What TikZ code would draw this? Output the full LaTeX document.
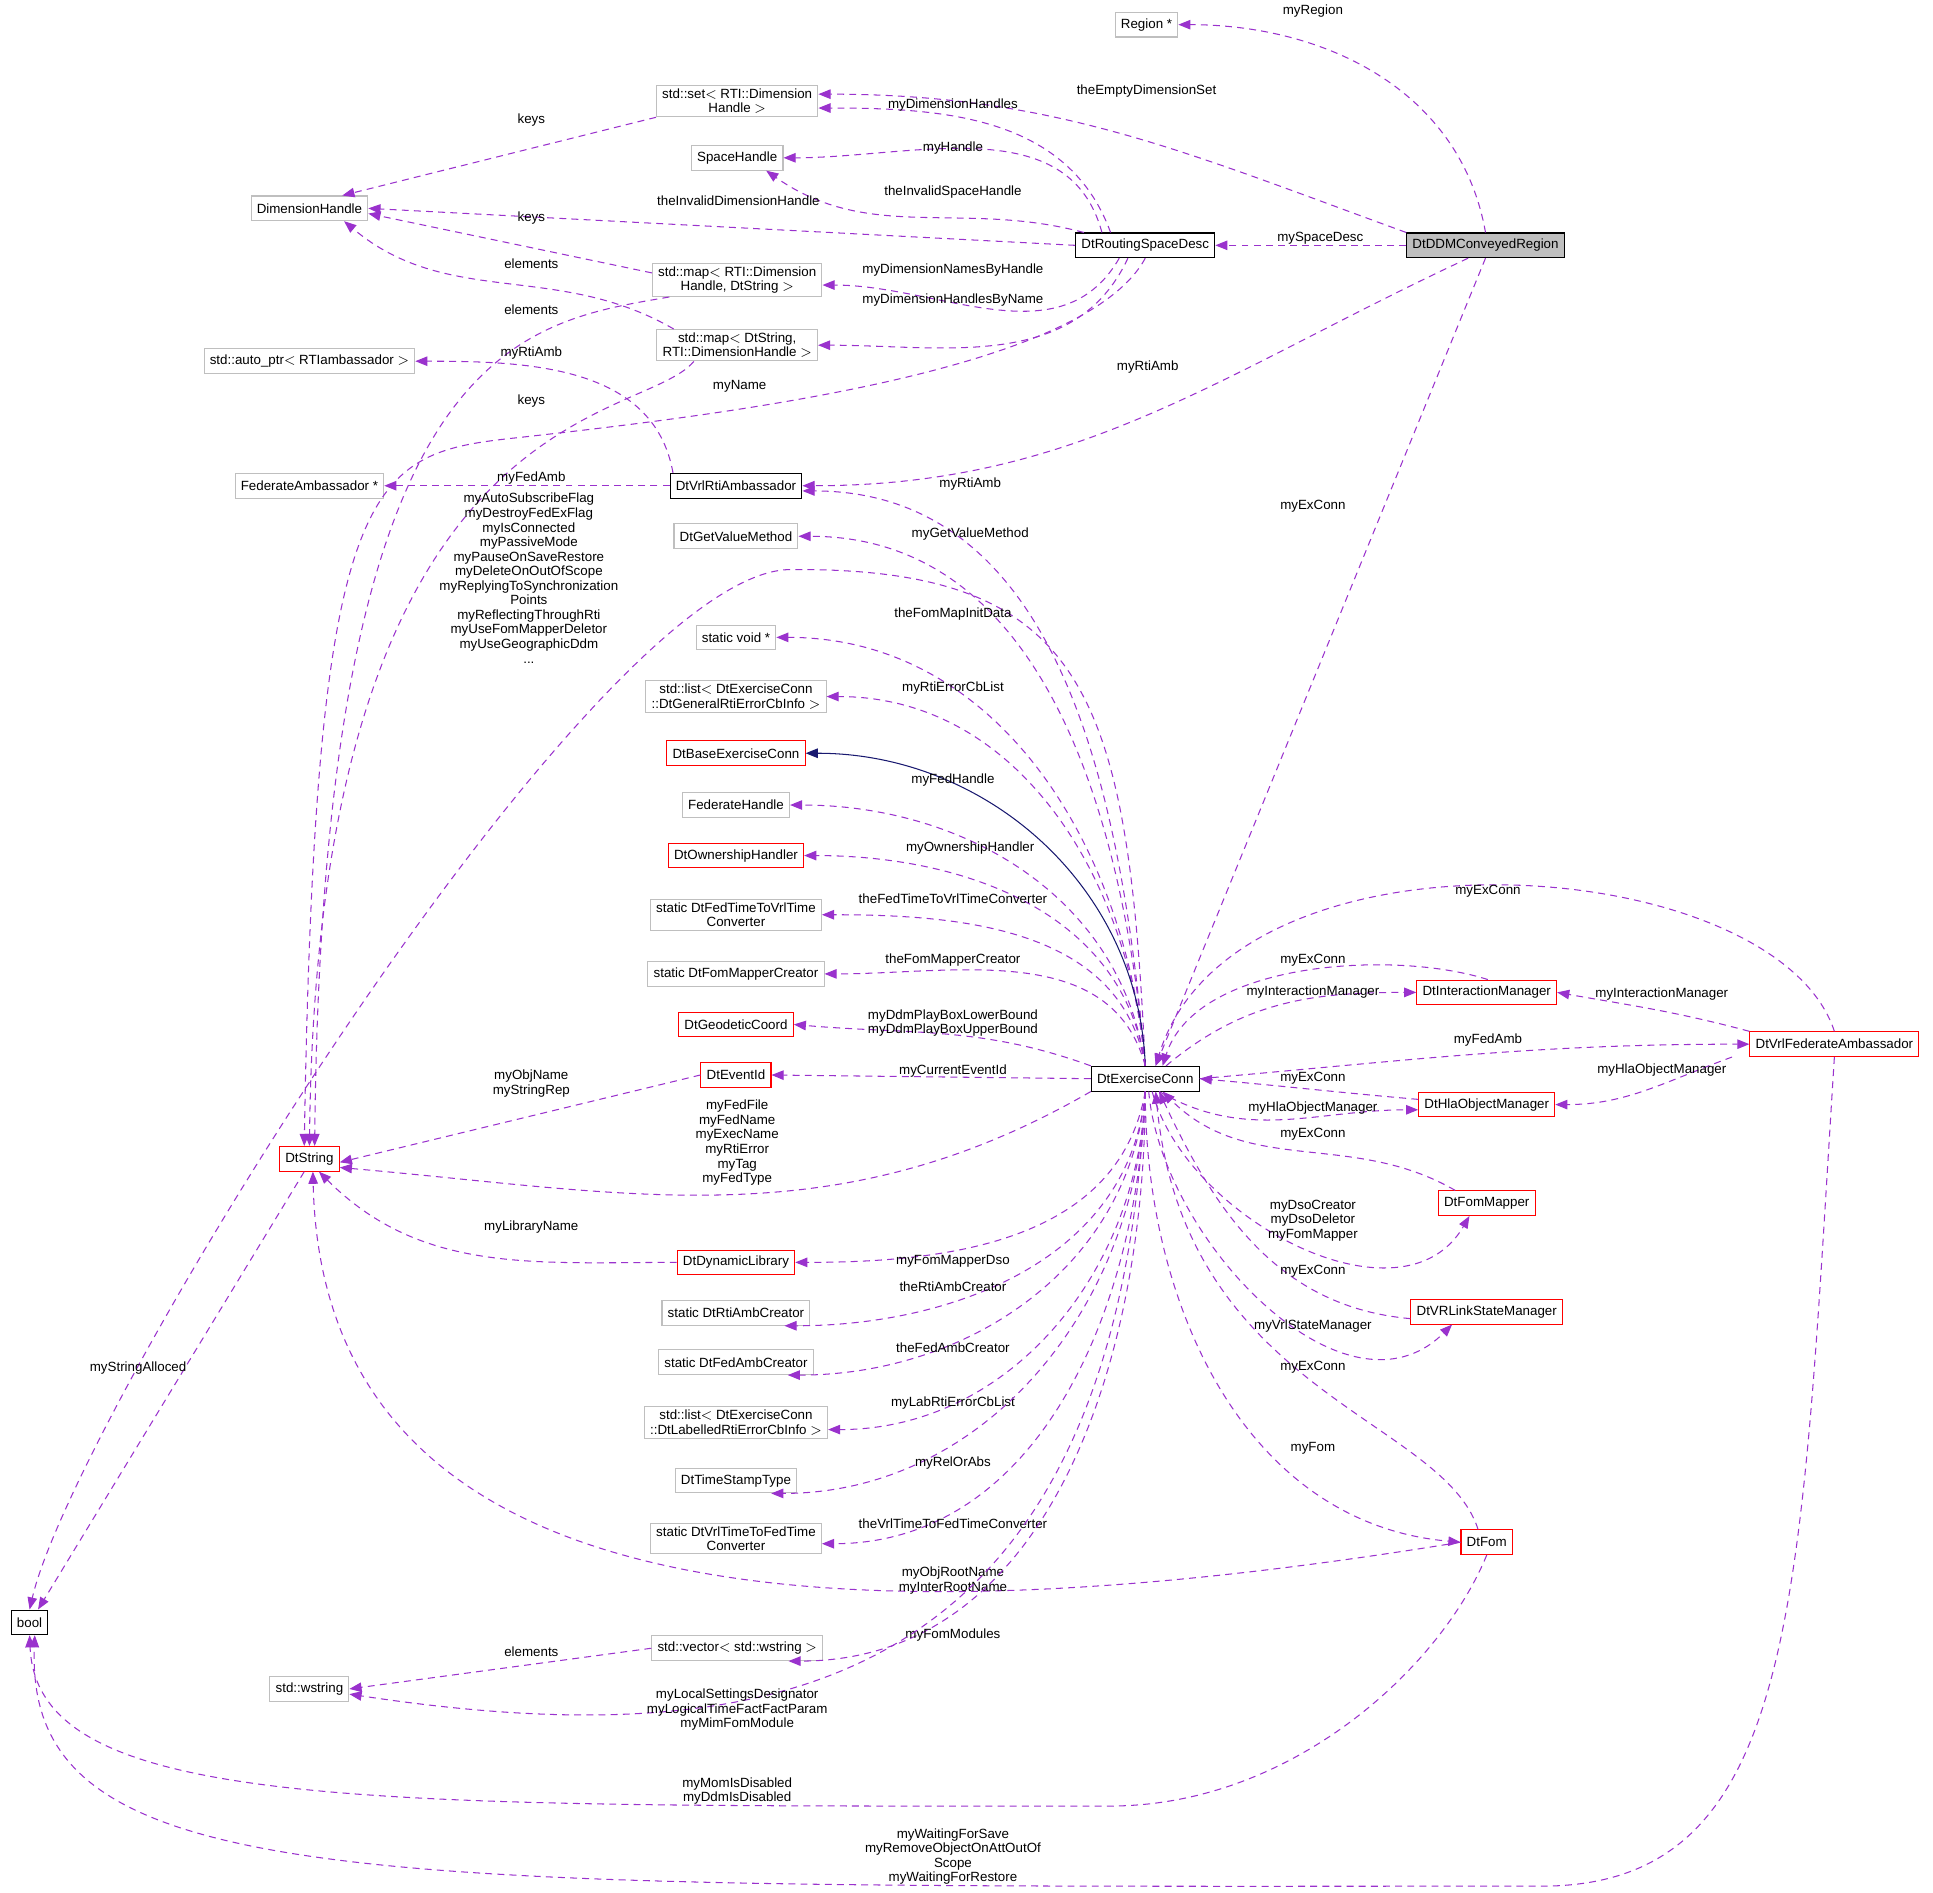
\documentclass[tikz,border=0pt]{standalone}
\usepackage{fontspec}
\setmainfont{Liberation Sans}
\usetikzlibrary{arrows.meta}
\definecolor{depcol}{HTML}{9A32CD}
\definecolor{redcol}{HTML}{FF0000}
\definecolor{greycol}{HTML}{BFBFBF}
\definecolor{navycol}{HTML}{191970}
\newcommand{\dgfont}{\fontsize{7.7}{8.4}\selectfont}
\tikzset{
  cls/.style={rectangle, draw=black, line width=0.6pt, fill=white, font=\dgfont, align=center, minimum height=0.5cm, inner xsep=3.3pt, inner ysep=1.8pt},
  gcls/.style={cls, draw=greycol},
  rcls/.style={cls, draw=redcol},
  dep/.style={draw=depcol, line width=0.6pt, dash pattern=on 4pt off 3pt, -{Triangle[length=7pt,width=5.5pt,fill=depcol]}},
  inh/.style={draw=navycol, line width=0.6pt, -{Triangle[length=7pt,width=5.5pt,fill=navycol]}},
  lbl/.style={font=\dgfont, align=center, inner sep=0pt}
}
\begin{document}
\begin{tikzpicture}[x=0.025cm,y=0.025cm]
  \useasboundingbox[fill=white] (0,0) rectangle (1568,-1535);
  % classes
  \node[gcls] (reg) at (930,-20) {Region *};
  \node[gcls] (dset) at (598,-82) {std::set$<$ RTI::Dimension\\Handle $>$};
  \node[gcls] (spc) at (598,-128) {SpaceHandle};
  \node[gcls] (dh) at (251,-169) {DimensionHandle};
  \node[cls] (rsd) at (929,-199) {DtRoutingSpaceDesc};
  \node[cls, fill=greycol] (ddm) at (1205,-199) {DtDDMConveyedRegion};
  \node[gcls] (mapa) at (598,-227) {std::map$<$ RTI::Dimension\\Handle, DtString $>$};
  \node[gcls] (mapb) at (598,-280) {std::map$<$ DtString,\\RTI::DimensionHandle $>$};
  \node[gcls] (aptr) at (251,-293) {std::auto\_ptr$<$ RTIambassador $>$};
  \node[gcls] (fedamb) at (251,-394) {FederateAmbassador *};
  \node[cls] (vrlrti) at (597,-394) {DtVrlRtiAmbassador};
  \node[gcls] (getval) at (597,-435) {DtGetValueMethod};
  \node[gcls] (svoid) at (597,-517) {static void *};
  \node[gcls] (lgen) at (597,-565) {std::list$<$ DtExerciseConn\\::DtGeneralRtiErrorCbInfo $>$};
  \node[rcls] (base) at (597,-611) {DtBaseExerciseConn};
  \node[gcls] (fedh) at (597,-653) {FederateHandle};
  \node[rcls] (own) at (597,-694) {DtOwnershipHandler};
  \node[gcls] (ftv) at (597,-742) {static DtFedTimeToVrlTime\\Converter};
  \node[gcls] (fmc) at (597,-790) {static DtFomMapperCreator};
  \node[rcls] (geo) at (597,-831) {DtGeodeticCoord};
  \node[rcls] (evt) at (597,-872) {DtEventId};
  \node[rcls] (dstr) at (251,-940) {DtString};
  \node[cls] (ec) at (929,-875) {DtExerciseConn};
  \node[rcls] (dyn) at (597,-1024) {DtDynamicLibrary};
  \node[gcls] (rac) at (597,-1065) {static DtRtiAmbCreator};
  \node[gcls] (fac) at (597,-1105) {static DtFedAmbCreator};
  \node[gcls] (llab) at (597,-1154) {std::list$<$ DtExerciseConn\\::DtLabelledRtiErrorCbInfo $>$};
  \node[gcls] (tst) at (597,-1201) {DtTimeStampType};
  \node[gcls] (vtf) at (597,-1248) {static DtVrlTimeToFedTime\\Converter};
  \node[gcls] (vec) at (598,-1337) {std::vector$<$ std::wstring $>$};
  \node[gcls] (wstr) at (251,-1370) {std::wstring};
  \node[cls] (bool) at (24,-1316) {bool};
  \node[rcls] (im) at (1206,-805) {DtInteractionManager};
  \node[rcls] (vfa) at (1488,-847) {DtVrlFederateAmbassador};
  \node[rcls] (hom) at (1206,-896) {DtHlaObjectManager};
  \node[rcls] (fmap) at (1206,-976) {DtFomMapper};
  \node[rcls] (vsm) at (1206,-1064) {DtVRLinkStateManager};
  \node[rcls] (fom) at (1206,-1251) {DtFom};
  % upper part
  \draw[dep] (ddm.north) to[out=100,in=0] (reg.east) node[lbl] at (1065,-9) {myRegion};
  \draw[dep] (ddm.north west) to[out=160,in=0] ([yshift=4pt]dset.east) node[lbl] at (930,-74) {theEmptyDimensionSet};
  \draw[dep] ([xshift=-20pt]rsd.north) to[out=110,in=0] ([yshift=-4pt]dset.east) node[lbl] at (773,-85) {myDimensionHandles};
  \draw[dep] (dset.south west) -- ([xshift=-15pt]dh.north east) node[lbl] at (431,-97) {keys};
  \draw[dep] ([xshift=-25pt]rsd.north) to[out=105,in=0] (spc.east) node[lbl] at (773,-120) {myHandle};
  \draw[dep] ([xshift=5pt]rsd.north west) to[out=165,in=-35] ([xshift=-10pt]spc.south east) node[lbl] at (773,-156) {theInvalidSpaceHandle};
  \draw[dep] (rsd.west) -- (dh.east) node[lbl] at (599,-163) {theInvalidDimensionHandle};
  \draw[dep] (ddm.west) -- (rsd.east) node[lbl] at (1071,-193) {mySpaceDesc};
  \draw[dep] ([yshift=4pt]mapa.west) -- ([yshift=-3pt]dh.east) node[lbl] at (431,-177) {keys};
  \draw[dep] ([xshift=-15pt]rsd.south) to[out=-120,in=0] ([yshift=-3pt]mapa.east) node[lbl] at (773,-219) {myDimensionNamesByHandle};
  \draw[dep] ([xshift=10pt]mapa.south west) .. controls (420,-262) and (262,-280) .. ([xshift=3pt]dstr.north) node[lbl] at (431,-251) {elements};
  \draw[dep] ([xshift=10pt]mapb.north west) to[out=150,in=-40] ([xshift=20pt]dh.south) node[lbl] at (431,-214) {elements};
  \draw[dep] ([xshift=-10pt]rsd.south) to[out=-115,in=0] (mapb.east) node[lbl] at (773,-243) {myDimensionHandlesByName};
  \draw[dep] ([xshift=-25pt]mapb.south) .. controls (520,-345) and (258,-320) .. (dstr.north) node[lbl] at (431,-325) {keys};
  \draw[dep] (rsd.south) .. controls (880,-300) and (600,-335) .. (420,-355) .. controls (300,-368) and (256,-380) .. ([xshift=-3pt]dstr.north) node[lbl] at (600,-313) {myName};
  \draw[dep] ([xshift=2pt]vrlrti.north west) to[out=100,in=0] (aptr.east) node[lbl] at (431,-286) {myRtiAmb};
  \draw[dep] (vrlrti.west) -- (fedamb.east) node[lbl] at (431,-388) {myFedAmb};
  \draw[dep] ([xshift=-10pt]ddm.south) to[out=-155,in=0] (vrlrti.east) node[lbl] at (931,-298) {myRtiAmb};
  \draw[dep] (ddm.south) -- ([xshift=6pt]ec.north) node[lbl] at (1065,-411) {myExConn};
  % exercise conn to the left, above
  \draw[dep] (ec.north) to[out=95,in=0] ([yshift=-3pt]vrlrti.east) node[lbl] at (787,-393) {myRtiAmb};
  \draw[dep] (ec.north) to[out=95,in=0] (getval.east) node[lbl] at (787,-433) {myGetValueMethod};
  \draw[dep] (ec.north) .. controls (915,-560) and (880,-460) .. (640,-462) .. controls (480,-466) and (60,-1150) .. (bool.north)
    node[lbl] at (429,-469) {myAutoSubscribeFlag\\myDestroyFedExFlag\\myIsConnected\\myPassiveMode\\myPauseOnSaveRestore\\myDeleteOnOutOfScope\\myReplyingToSynchronization\\Points\\myReflectingThroughRti\\myUseFomMapperDeletor\\myUseGeographicDdm\\...};
  \draw[dep] (ec.north) to[out=95,in=0] (svoid.east) node[lbl] at (773,-498) {theFomMapInitData};
  \draw[dep] (ec.north) to[out=95,in=0] (lgen.east) node[lbl] at (773,-558) {myRtiErrorCbList};
  \draw[inh] (ec.north) to[out=92,in=0] (base.east);
  \draw[dep] (ec.north) to[out=98,in=0] (fedh.east) node[lbl] at (773,-633) {myFedHandle};
  \draw[dep] (ec.north) to[out=98,in=0] (own.east) node[lbl] at (787,-688) {myOwnershipHandler};
  \draw[dep] (ec.north) to[out=100,in=0] (ftv.east) node[lbl] at (773,-729) {theFedTimeToVrlTimeConverter};
  \draw[dep] (ec.north) to[out=105,in=0] (fmc.east) node[lbl] at (773,-779) {theFomMapperCreator};
  \draw[dep] (ec.north west) to[out=160,in=-5] (geo.east) node[lbl] at (773,-830) {myDdmPlayBoxLowerBound\\myDdmPlayBoxUpperBound};
  \draw[dep] (ec.west) -- (evt.east) node[lbl] at (773,-869) {myCurrentEventId};
  \draw[dep] (evt.west) -- ([yshift=-2pt]dstr.east) node[lbl] at (431,-879) {myObjName\\myStringRep};
  \draw[dep] (ec.south west) to[out=-150,in=-5] ([yshift=-5pt]dstr.east) node[lbl] at (598,-927) {myFedFile\\myFedName\\myExecName\\myRtiError\\myTag\\myFedType};
  \draw[dep] (dyn.west) to[out=180,in=-45] ([xshift=-12pt]dstr.south east) node[lbl] at (431,-995) {myLibraryName};
  % exercise conn to the left, below
  \draw[dep] (ec.south) to[out=-100,in=0] (dyn.east) node[lbl] at (773,-1023) {myFomMapperDso};
  \draw[dep] (ec.south) to[out=-95,in=0] ([xshift=-15pt]rac.south east) node[lbl] at (773,-1044) {theRtiAmbCreator};
  \draw[dep] (ec.south) to[out=-95,in=0] ([xshift=-15pt]fac.south east) node[lbl] at (773,-1093) {theFedAmbCreator};
  \draw[dep] (ec.south) to[out=-92,in=0] ([yshift=-4pt]llab.east) node[lbl] at (773,-1138) {myLabRtiErrorCbList};
  \draw[dep] (ec.south) to[out=-92,in=0] ([xshift=-15pt]tst.south east) node[lbl] at (773,-1187) {myRelOrAbs};
  \draw[dep] (ec.south) to[out=-92,in=0] ([yshift=-3pt]vtf.east) node[lbl] at (773,-1236) {theVrlTimeToFedTimeConverter};
  \draw[dep] (fom.west) .. controls (700,-1330) and (262,-1320) .. ([xshift=2pt]dstr.south) node[lbl] at (773,-1282) {myObjRootName\\myInterRootName};
  \draw[dep] (ec.south) to[out=-90,in=0] ([xshift=-20pt]vec.south east) node[lbl] at (773,-1326) {myFomModules};
  \draw[dep] (vec.west) -- (wstr.east) node[lbl] at (431,-1340) {elements};
  \draw[dep] (ec.south) .. controls (905,-1380) and (620,-1425) .. ([yshift=-3pt]wstr.east) node[lbl] at (598,-1387) {myLocalSettingsDesignator\\myLogicalTimeFactFactParam\\myMimFomModule};
  \draw[dep] (fom.south) .. controls (1170,-1350) and (1050,-1465) .. (900,-1465) .. controls (300,-1465) and (30,-1470) .. (bool.south) node[lbl] at (598,-1453) {myMomIsDisabled\\myDdmIsDisabled};
  \draw[dep] (vfa.south) .. controls (1460,-1300) and (1460,-1530) .. (1250,-1530) .. controls (300,-1530) and (20,-1540) .. ([xshift=3pt]bool.south) node[lbl] at (773,-1506) {myWaitingForSave\\myRemoveObjectOnAttOutOf\\Scope\\myWaitingForRestore};
  \draw[dep] ([xshift=-3pt]dstr.south) -- ([xshift=-6pt]bool.north east) node[lbl] at (112,-1110) {myStringAlloced};
  % exercise conn to the right
  \draw[dep] (vfa.north) .. controls (1440,-690) and (1000,-660) .. ([xshift=6pt]ec.north) node[lbl] at (1207,-723) {myExConn};
  \draw[dep] ([xshift=-40pt]im.north east) .. controls (1130,-770) and (970,-780) .. ([xshift=10pt]ec.north) node[lbl] at (1065,-779) {myExConn};
  \draw[dep] ([xshift=12pt]ec.north) to[out=40,in=180] (im.west) node[lbl] at (1065,-805) {myInteractionManager};
  \draw[dep] (vfa.north west) to[out=165,in=-10] (im.east) node[lbl] at (1348,-806) {myInteractionManager};
  \draw[dep] (ec.east) to[out=5,in=180] (vfa.west) node[lbl] at (1207,-844) {myFedAmb};
  \draw[dep] ([yshift=3pt]hom.west) to[out=175,in=-5] (ec.east) node[lbl] at (1065,-875) {myExConn};
  \draw[dep] ([xshift=-10pt]vfa.south west) to[out=-160,in=0] (hom.east) node[lbl] at (1348,-868) {myHlaObjectManager};
  \draw[dep] ([xshift=8pt]ec.south) to[out=-30,in=180] ([yshift=-3pt]hom.west) node[lbl] at (1065,-899) {myHlaObjectManager};
  \draw[dep] ([xshift=10pt]fmap.north west) to[out=150,in=-45] ([xshift=10pt]ec.south) node[lbl] at (1065,-920) {myExConn};
  \draw[dep] ([xshift=4pt]ec.south) to[out=-75,in=-120] ([xshift=-10pt]fmap.south) node[lbl] at (1065,-990) {myDsoCreator\\myDsoDeletor\\myFomMapper};
  \draw[dep] ([yshift=-4pt]vsm.west) to[out=175,in=-65] ([xshift=8pt]ec.south) node[lbl] at (1065,-1031) {myExConn};
  \draw[dep] ([xshift=2pt]ec.south) to[out=-85,in=-135] ([xshift=-20pt]vsm.south) node[lbl] at (1065,-1076) {myVrlStateManager};
  \draw[dep] ([xshift=-5pt]fom.north) .. controls (1170,-1150) and (960,-1130) .. ([xshift=6pt]ec.south) node[lbl] at (1065,-1109) {myExConn};
  \draw[dep] (ec.south) to[out=-90,in=175] (fom.west) node[lbl] at (1065,-1175) {myFom};
\end{tikzpicture}
\end{document}
